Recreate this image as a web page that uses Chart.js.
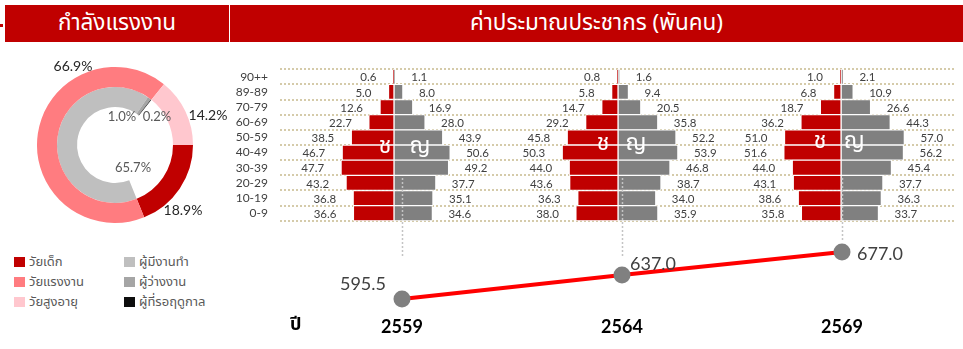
<!DOCTYPE html>
<html lang="th">
<head>
<meta charset="utf-8">
<title>ค่าประมาณประชากร</title>
<script src="https://cdn.jsdelivr.net/npm/chart.js@4.4.1/dist/chart.umd.min.js"></script>
<style>
  html, body { margin: 0; padding: 0; background: #fff; }
  body {
    position: relative; width: 963px; height: 349px; overflow: hidden;
    font-family: "Noto Sans Thai", "Noto Sans", "Lato", sans-serif;
  }
  .abs { position: absolute; }
  .hdr {
    position: absolute; top: 5px; height: 37px; line-height: 37px;
    background: #c00000; color: #fff; text-align: center; font-size: 22.5px;
  }
  #mark { left: 0; top: 24px; width: 3px; height: 3px; background: #c00000; }
  #hdrL { left: 5px; width: 224px; }
  #hdrR { left: 230px; width: 733px; }
  .lg { position: absolute; font-size: 13px; color: #595959; line-height: 14px; white-space: nowrap; }
  .lg i { display: inline-block; width: 11px; height: 10px; margin-right: 4px; vertical-align: -1px; }
  #yearWord { left: 290px; top: 311px; font-size: 18px; font-weight: bold; color: #000; }
  canvas { position: absolute; }
</style>
</head>
<body>
<div id="mark" class="abs"></div>
<div id="hdrL" class="hdr">กำลังแรงงาน</div>
<div id="hdrR" class="hdr">ค่าประมาณประชากร (พันคน)</div>

<canvas id="donut" width="230" height="200" style="left:0px;top:45px"></canvas>
<div id="legend"></div>

<canvas id="pyramid" width="733" height="190" style="left:230px;top:50px"></canvas>
<canvas id="trend" width="683" height="179" style="left:280px;top:170px"></canvas>
<div id="yearWord" class="abs">ปี</div>

<script>
// ---- Labour force shares (%) ----
const ageGroups = ['วัยเด็ก', 'วัยแรงงาน', 'วัยสูงอายุ'];
const agePct = [18.9, 66.9, 14.2];
const ageColors = ['#c00000', '#ff7c80', '#ffc7ce'];

const workGroups = ['ผู้มีงานทำ', 'ผู้ว่างงาน', 'ผู้ที่รอฤดูกาล'];
const workPct = [65.7, 1.0, 0.2];
const workColors = ['#bfbfbf', '#a5a5a5', '#0d0d0d'];

// ---- Population estimates (thousand persons), oldest band first ----
const ageBands = ['90++', '89-89', '70-79', '60-69', '50-59', '40-49', '30-39', '20-29', '10-19', '0-9'];
const years = ['2559', '2564', '2569'];

const male2559   = [0.6, 5.0, 12.6, 22.7, 38.5, 46.7, 47.7, 43.2, 36.8, 36.6];
const female2559 = [1.1, 8.0, 16.9, 28.0, 43.9, 50.6, 49.2, 37.7, 35.1, 34.6];
const male2564   = [0.8, 5.8, 14.7, 29.2, 45.8, 50.3, 44.0, 43.6, 36.3, 38.0];
const female2564 = [1.6, 9.4, 20.5, 35.8, 52.2, 53.9, 46.8, 38.7, 34.0, 35.9];
const male2569   = [1.0, 6.8, 18.7, 36.2, 51.0, 51.6, 44.0, 43.1, 38.6, 35.8];
const female2569 = [2.1, 10.9, 26.6, 44.3, 57.0, 56.2, 45.4, 37.7, 36.3, 33.7];

const totals = [595.5, 637.0, 677.0];

const sexLetters = ['ช', 'ญ'];

// ---------------------------------------------------------------
const NUM_FONT = '"Lato", "Noto Sans", sans-serif';
const THAI_FONT = '"Noto Sans Thai", "Noto Sans", "Lato", sans-serif';
const LABEL_GREY = '#404040';

// Legend (two columns, three rows)
(function buildLegend() {
  const host = document.getElementById('legend');
  const cols = [
    { names: ageGroups, colors: ageColors, left: 14 },
    { names: workGroups, colors: workColors, left: 124 }
  ];
  cols.forEach(col => {
    col.names.forEach((name, i) => {
      const d = document.createElement('div');
      d.className = 'lg';
      d.style.left = col.left + 'px';
      d.style.top = (255 + i * 20) + 'px';
      d.innerHTML = '<i style="background:' + col.colors[i] + '"></i>' + name;
      host.appendChild(d);
    });
  });
})();

// ---- Doughnut: outer ring = age groups, inner ring = labour-force status ----
const TRANSPARENT = 'rgba(0,0,0,0)';
const innerData = [agePct[0], ...workPct, agePct[2]];
const innerColors = [TRANSPARENT, ...workColors, TRANSPARENT];

// text placement around the ring centre: [dx, dy, colour, size]
const donutLabelPlacement = {
  outer: [[68, 65, '#262626', 14], [-42, -79, '#262626', 14], [93, -30, '#262626', 14]],
  inner: [null, [18, 23, '#595959', 13], [7, -28, '#595959', 13], [42, -28, '#595959', 13], null]
};

const donutLabels = {
  id: 'donutLabels',
  afterDatasetsDraw(chart) {
    const ctx = chart.ctx;
    const a0 = chart.getDatasetMeta(0).data[0];
    const cx = a0.x, cy = a0.y;
    ctx.save();
    ctx.textAlign = 'center';
    ctx.textBaseline = 'middle';
    const draw = (values, place) => {
      values.forEach((v, i) => {
        const p = place[i];
        if (!p) return;
        ctx.fillStyle = p[2];
        ctx.font = p[3] + 'px ' + NUM_FONT;
        ctx.fillText(v.toFixed(1) + '%', cx + p[0], cy + p[1]);
      });
    };
    draw(agePct, donutLabelPlacement.outer);
    draw(innerData, donutLabelPlacement.inner);
    ctx.restore();
  }
};

new Chart(document.getElementById('donut'), {
  type: 'doughnut',
  data: {
    labels: ageGroups,
    datasets: [
      { data: agePct, backgroundColor: ageColors, borderWidth: 0 },
      { data: innerData, backgroundColor: innerColors, borderWidth: 0 }
    ]
  },
  options: {
    responsive: false, animation: false, devicePixelRatio: 1,
    rotation: 90, cutout: '48.7%',
    layout: { padding: { left: 37, right: 37, top: 22, bottom: 22 } },
    plugins: { legend: { display: false }, tooltip: { enabled: false } }
  },
  plugins: [donutLabels]
});

// ---- Population pyramids: three panels sharing one category axis ----
// Each panel has its own hidden x axis; the zero of each sits under its panel.
const PANEL_SPAN = 608;                 // units across the plot width
const PANEL_ZERO = [102.7, 304.5, 505.4]; // units from the left edge to each panel's zero
const panelAxis = i => ({
  type: 'linear', display: false,
  min: -PANEL_ZERO[i], max: PANEL_SPAN - PANEL_ZERO[i]
});

const MALE = '#c00000', FEMALE = '#808080';
const panels = [[male2559, female2559], [male2564, female2564], [male2569, female2569]];
const pyramidSets = [];
panels.forEach(([m, f], i) => {
  pyramidSets.push({ label: 'ชาย ' + years[i], side: 'm', panel: i, data: m.map(v => -v),
    backgroundColor: MALE, xAxisID: 'x' + i });
  pyramidSets.push({ label: 'หญิง ' + years[i], side: 'f', panel: i, data: f.slice(),
    backgroundColor: FEMALE, xAxisID: 'x' + i });
});

// letter placement relative to each panel's zero: [male dx, female dx, dy]
const letterPlacement = [[-9, 26, 3], [-15, 18, 0], [-21, 13, -2]];

const pyramidLabels = {
  id: 'pyramidLabels',
  afterDatasetsDraw(chart) {
    const ctx = chart.ctx;
    ctx.save();
    ctx.font = '11.5px ' + NUM_FONT;
    ctx.fillStyle = LABEL_GREY;
    ctx.textBaseline = 'middle';
    chart.data.datasets.forEach((ds, di) => {
      const meta = chart.getDatasetMeta(di);
      meta.data.forEach((bar, j) => {
        const male = ds.side === 'm';
        ctx.textAlign = male ? 'right' : 'left';
        ctx.fillText(Math.abs(ds.data[j]).toFixed(1), bar.x + (male ? -17 : 16), bar.y + 1);
      });
    });
    // sex letters in the widest rows
    const yMid = chart.scales.y.getPixelForValue(4.5);
    ctx.font = '23px ' + THAI_FONT;
    ctx.fillStyle = '#ffffff';
    ctx.textAlign = 'center';
    years.forEach((_, i) => {
      const x0 = chart.scales['x' + i].getPixelForValue(0);
      const p = letterPlacement[i];
      ctx.fillText(sexLetters[0], x0 + p[0], yMid + p[2]);
      ctx.fillText(sexLetters[1], x0 + p[1], yMid + p[2]);
    });
    ctx.restore();
  }
};

new Chart(document.getElementById('pyramid'), {
  type: 'bar',
  data: { labels: ageBands, datasets: pyramidSets },
  options: {
    responsive: false, animation: false, devicePixelRatio: 1,
    indexAxis: 'y',
    layout: { padding: { top: 7, bottom: 7, left: 0, right: 8 } },
    datasets: { bar: { grouped: false, barPercentage: 1, categoryPercentage: 1,
      borderColor: '#ffffff', borderWidth: 1, borderSkipped: false } },
    plugins: { legend: { display: false }, tooltip: { enabled: false } },
    scales: {
      y: {
        afterFit(s) { s.width = 50; },
        grid: { offset: true, color: '#d5cbaa', lineWidth: 2, drawTicks: false },
        border: { display: false, dash: [2, 2] },
        ticks: { autoSkip: false, padding: 12, color: LABEL_GREY, font: { family: NUM_FONT, size: 12 } }
      },
      x0: panelAxis(0), x1: panelAxis(1), x2: panelAxis(2)
    }
  },
  plugins: [pyramidLabels]
});

// ---- Total population trend ----
const totalLabelPlacement = [[-16, -15, 'right'], [8, -11, 'left'], [15, 2, 'left']];
const DROP_TOP = 8;      // drop guides start just under the pyramids
const DROP_BOTTOM = 88;

const trendDecor = {
  id: 'trendDecor',
  beforeDatasetsDraw(chart) {
    const ctx = chart.ctx;
    ctx.save();
    ctx.strokeStyle = '#c4c4c4';
    ctx.lineWidth = 1.5;
    ctx.setLineDash([2, 2]);
    chart.getDatasetMeta(0).data.forEach(pt => {
      ctx.beginPath();
      ctx.moveTo(Math.round(pt.x) + 0.5, DROP_TOP);
      ctx.lineTo(Math.round(pt.x) + 0.5, Math.min(DROP_BOTTOM, pt.y - 10));
      ctx.stroke();
    });
    ctx.restore();
  },
  afterDatasetsDraw(chart) {
    const ctx = chart.ctx;
    ctx.save();
    ctx.font = '18px ' + NUM_FONT;
    ctx.fillStyle = LABEL_GREY;
    ctx.textBaseline = 'middle';
    chart.getDatasetMeta(0).data.forEach((pt, i) => {
      const p = totalLabelPlacement[i];
      ctx.textAlign = p[2];
      ctx.fillText(totals[i].toFixed(1), pt.x + p[0], pt.y + p[1]);
    });
    ctx.restore();
  }
};

new Chart(document.getElementById('trend'), {
  type: 'line',
  data: {
    labels: years,
    datasets: [{
      data: totals, borderColor: '#ff0000', borderWidth: 4, tension: 0,
      pointRadius: 8.5, pointBackgroundColor: '#808080', pointBorderWidth: 0,
      clip: false
    }]
  },
  options: {
    responsive: false, animation: false, devicePixelRatio: 1,
    layout: { padding: { top: 70, left: 122, right: 121, bottom: 0 } },
    plugins: { legend: { display: false }, tooltip: { enabled: false } },
    scales: {
      x: {
        offset: false,
        afterFit(s) { s.height = 39; },
        grid: { display: false, drawTicks: false },
        border: { display: false },
        ticks: { padding: 6, color: '#000', font: { family: NUM_FONT, size: 18, weight: 'bold' } }
      },
      y: { display: false, min: 576.4, max: 697.8 }
    }
  },
  plugins: [trendDecor]
});
</script>
</body>
</html>
